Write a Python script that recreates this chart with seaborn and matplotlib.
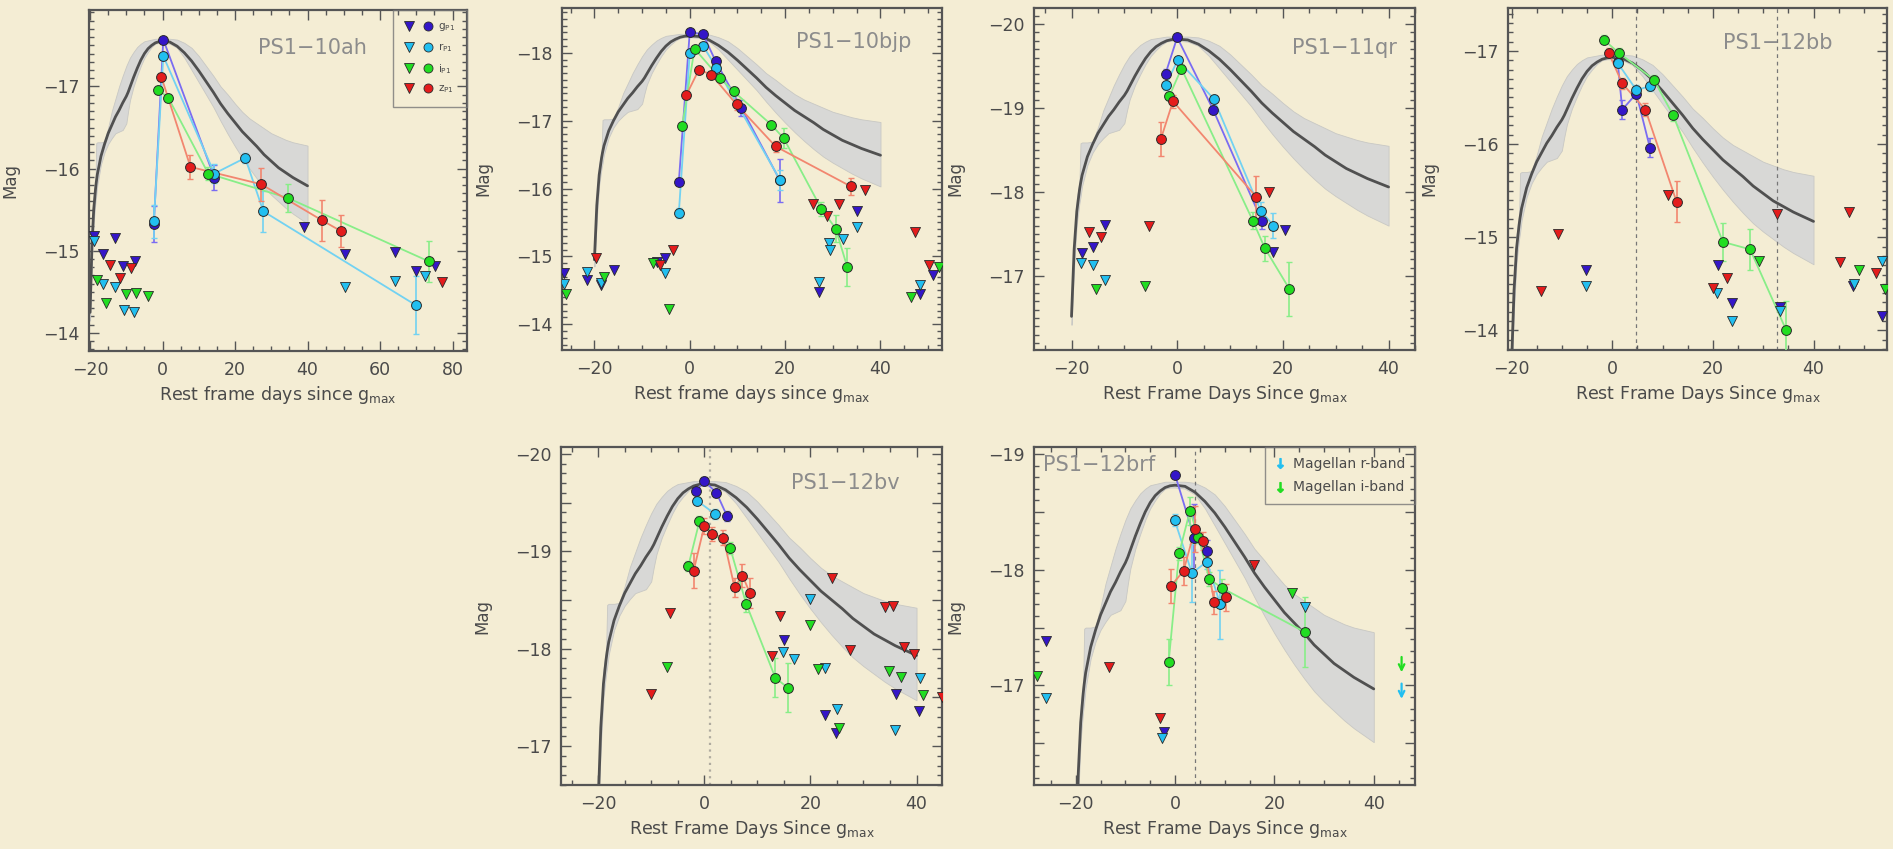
import numpy as np
import pandas as pd
import matplotlib
matplotlib.use("Agg")
import matplotlib.pyplot as plt
import seaborn as sns
from matplotlib.ticker import MultipleLocator, FuncFormatter
from matplotlib.lines import Line2D
from matplotlib.legend_handler import HandlerTuple

# ---------------- template (offset from peak, mag) ----------------
TEMPLATE_DAYS = [-20, -19.5, -19, -18.5, -18.3, -18, -17, -16, -15, -14, -13, -12, -11, -10, -9.5, -9,
                 -8, -7, -6, -5, -4, -3, -2, -1, 0, 2, 4, 6, 8, 10, 12, 14, 16, 18, 20, 22, 24, 26,
                 28, 30, 32, 34, 36, 38, 40]
TEMPLATE_MEAN = [3.3, 2.5, 2.05, 1.8, 1.72, 1.62, 1.4, 1.25, 1.12, 1.02, 0.92, 0.84, 0.75, 0.67, 0.62, 0.56,
                 0.44, 0.33, 0.23, 0.15, 0.09, 0.05, 0.02, 0.005, 0.0, 0.01, 0.06, 0.14, 0.24, 0.36, 0.49,
                 0.62, 0.76, 0.88, 0.99, 1.10, 1.19, 1.28, 1.38, 1.46, 1.54, 1.60, 1.66, 1.71, 1.76]
TEMPLATE_UPPER = [3.2, 2.4, 1.9, 1.7, 1.24, 1.23, 1.23, 1.22, 1.05, 0.85, 0.70, 0.55, 0.42, 0.30, 0.25, 0.20,
                  0.13, 0.07, 0.03, 0.0, -0.01, -0.02, -0.03, -0.03, -0.03, -0.03, -0.02, 0.02, 0.08, 0.18,
                  0.30, 0.42, 0.55, 0.65, 0.76, 0.86, 0.94, 1.0, 1.06, 1.12, 1.16, 1.20, 1.23, 1.25, 1.27]
TEMPLATE_LOWER = [3.4, 2.7, 2.2, 1.95, 1.88, 1.75, 1.5, 1.35, 1.25, 1.18, 1.12, 1.10, 1.08, 1.0, 0.85, 0.72,
                  0.55, 0.42, 0.30, 0.20, 0.13, 0.07, 0.03, 0.02, 0.02, 0.03, 0.08, 0.20, 0.35, 0.50, 0.65,
                  0.80, 0.97, 1.13, 1.28, 1.42, 1.55, 1.67, 1.78, 1.87, 1.95, 2.03, 2.10, 2.16, 2.22]

PANEL_NAMES = ["PS1−10ah", "PS1−10bjp", "PS1−11qr", "PS1−12bb", "PS1−12bv", "PS1−12brf"]
PEAK_MAGS = [-17.55, -18.25, -19.82, -16.93, -19.69, -18.73]
BANDS = ["g", "r", "i", "z"]
LEGEND_LABELS = [r"g$_{\rm P1}$", r"r$_{\rm P1}$", r"i$_{\rm P1}$", r"z$_{\rm P1}$"]
XLABEL_LOWER = r"Rest frame days since g$_{\rm max}$"
XLABEL_UPPER = r"Rest Frame Days Since g$_{\rm max}$"
YLABEL = "Mag"
MAGELLAN_LABELS = ["Magellan r-band", "Magellan i-band"]
MAGELLAN_DAY = 45.6
MAGELLAN_R_MAG = -17.04
MAGELLAN_I_MAG = -17.27

# ---------------- detections: (day, mag, err) ; limits: (day, mag) ----------------
P1_G = [(-2.4, -15.33, 0.22), (0.2, -17.57, 0.03), (14.3, -15.89, 0.15)]
P1_R = [(-2.4, -15.36, 0.2), (0.2, -17.37, 0.04), (14.3, -15.94, 0.12), (22.8, -16.13, 0.06),
        (27.8, -15.48, 0.25), (69.8, -14.34, 0.35)]
P1_I = [(-1.2, -16.96, 0.05), (1.6, -16.86, 0.05), (12.6, -15.94, 0.08), (34.7, -15.64, 0.17), (73.5, -14.87, 0.25)]
P1_Z = [(-0.3, -17.11, 0.05), (7.7, -16.02, 0.15), (27.2, -15.81, 0.2), (44.0, -15.37, 0.25), (49.2, -15.24, 0.2)]
P1_G_LIM = [(-18.9, -15.18), (-16.4, -14.96), (-13.2, -15.15), (-10.9, -14.81), (-7.6, -14.87), (38.9, -15.29),
            (50.4, -14.96), (64.2, -14.99), (69.8, -14.75), (75.3, -14.82)]
P1_R_LIM = [(-18.9, -15.12), (-16.4, -14.59), (-13.2, -14.56), (-10.7, -14.28), (-7.8, -14.26), (50.4, -14.56),
            (64.2, -14.63), (72.5, -14.69)]
P1_I_LIM = [(-18.2, -14.64), (-15.5, -14.37), (-10.1, -14.47), (-7.2, -14.48), (-4.1, -14.45)]
P1_Z_LIM = [(-14.4, -14.83), (-11.8, -14.67), (-8.8, -14.79), (77.1, -14.62)]

P2_G = [(-2.3, -16.10, 0.05), (0.0, -18.31, 0.03), (2.8, -18.27, 0.03), (5.4, -17.88, 0.05), (10.8, -17.19, 0.12),
        (18.9, -16.12, 0.32)]
P2_R = [(-2.3, -15.64, 0.08), (0.0, -18.00, 0.04), (2.8, -18.10, 0.04), (5.6, -17.78, 0.05), (18.9, -16.13, 0.15)]
P2_I = [(-1.6, -16.92, 0.05), (1.0, -18.06, 0.04), (6.3, -17.63, 0.05), (9.2, -17.43, 0.06), (17.1, -16.94, 0.06),
        (19.7, -16.74, 0.15), (27.6, -15.70, 0.1), (30.6, -15.41, 0.2), (33.0, -14.85, 0.28)]
P2_Z = [(-0.7, -17.38, 0.05), (1.9, -17.75, 0.05), (4.5, -17.68, 0.05), (9.8, -17.24, 0.08), (18.0, -16.62, 0.08),
        (33.8, -16.03, 0.12)]
P2_G_LIM = [(-26.4, -14.76), (-21.5, -14.65), (-18.6, -14.58), (-15.9, -14.80), (-6.9, -14.91), (-5.3, -14.97),
            (27.1, -14.48), (35.0, -15.67), (48.3, -14.45), (51.0, -14.72)]
P2_R_LIM = [(-26.4, -14.60), (-21.5, -14.77), (-18.7, -14.61), (-5.3, -14.75), (27.1, -14.62), (29.2, -15.20),
            (29.5, -15.10), (32.2, -15.25), (35.0, -15.44), (48.3, -14.58)]
P2_I_LIM = [(-25.9, -14.45), (-18.0, -14.70), (-7.7, -14.90), (-4.3, -14.23), (46.5, -14.40), (52.2, -14.85)]
P2_Z_LIM = [(-19.7, -14.97), (-6.2, -14.87), (-3.5, -15.09), (25.9, -15.77), (28.7, -15.60), (31.3, -15.77),
            (36.7, -15.98), (47.3, -15.36), (50.1, -14.87)]

P3_G = [(-2.2, -19.41, 0.05), (0.0, -19.84, 0.04), (6.8, -18.98, 0.05), (16.0, -17.66, 0.1)]
P3_R = [(-2.2, -19.27, 0.05), (0.1, -19.57, 0.04), (6.9, -19.11, 0.05), (15.8, -17.78, 0.1), (18.2, -17.60, 0.15)]
P3_I = [(-1.5, -19.14, 0.05), (0.8, -19.47, 0.05), (14.3, -17.66, 0.1), (16.6, -17.33, 0.15), (21.2, -16.85, 0.32)]
P3_Z = [(-3.1, -18.63, 0.2), (-0.8, -19.08, 0.08), (15.0, -17.94, 0.25)]
P3_G_LIM = [(-18.1, -17.27), (-15.9, -17.35), (-13.7, -17.61), (18.2, -17.29), (20.4, -17.55)]
P3_R_LIM = [(-18.3, -17.15), (-15.9, -17.13), (-13.7, -16.95)]
P3_I_LIM = [(-15.3, -16.85), (-6.1, -16.88)]
P3_Z_LIM = [(-16.7, -17.53), (-14.5, -17.46), (-5.4, -17.59), (17.4, -18.00)]

P4_G = [(1.1, -16.88, 0.05), (2.0, -16.37, 0.1), (4.8, -16.54, 0.05), (7.5, -15.96, 0.1)]
P4_R = [(1.1, -16.87, 0.05), (4.8, -16.58, 0.05), (7.5, -16.62, 0.05)]
P4_I = [(-1.7, -17.12, 0.05), (1.3, -16.98, 0.05), (8.3, -16.69, 0.05), (12.1, -16.31, 0.06), (22.0, -14.95, 0.2),
        (27.4, -14.87, 0.22), (34.6, -14.00, 0.32)]
P4_Z = [(-0.7, -16.98, 0.05), (2.0, -16.65, 0.06), (6.6, -16.37, 0.07), (12.8, -15.38, 0.22)]
P4_G_LIM = [(-5.3, -14.65), (21.0, -14.70), (23.8, -14.29), (33.4, -14.25), (47.9, -14.48), (53.6, -14.15)]
P4_R_LIM = [(-5.3, -14.48), (20.9, -14.40), (23.8, -14.10), (33.4, -14.21), (48.0, -14.50), (53.6, -14.75)]
P4_I_LIM = [(29.1, -14.75), (49.0, -14.65), (54.3, -14.44)]
P4_Z_LIM = [(-14.2, -14.42), (-10.8, -15.03), (11.1, -15.45), (20.1, -14.46), (22.8, -14.56), (32.8, -15.25),
            (45.2, -14.73), (47.0, -15.27), (52.5, -14.62)]

P5_G = [(-1.5, -19.62, 0.04), (0.0, -19.72, 0.04), (2.3, -19.60, 0.04), (4.3, -19.36, 0.05)]
P5_R = [(-1.4, -19.52, 0.04), (2.1, -19.38, 0.05)]
P5_I = [(-3.0, -18.85, 0.05), (-0.9, -19.31, 0.05), (4.9, -19.03, 0.06), (7.9, -18.46, 0.08), (13.4, -17.70, 0.2),
        (15.7, -17.60, 0.25)]
P5_Z = [(-2.0, -18.80, 0.18), (0.0, -19.26, 0.08), (1.4, -19.18, 0.07), (3.6, -19.14, 0.08), (5.7, -18.63, 0.1),
        (7.2, -18.75, 0.12), (8.6, -18.57, 0.15)]
P5_G_LIM = [(15.0, -18.09), (22.7, -17.32), (24.9, -17.13), (36.2, -17.53), (40.4, -17.36)]
P5_R_LIM = [(14.8, -17.97), (17.0, -17.89), (19.9, -18.51), (22.8, -17.80), (25.0, -17.38), (36.0, -17.16),
            (40.6, -17.70)]
P5_I_LIM = [(-7.0, -17.81), (19.9, -18.24), (21.4, -17.79), (25.3, -17.19), (34.8, -17.77), (37.0, -17.71),
            (41.2, -17.52)]
P5_Z_LIM = [(-10.1, -17.53), (-6.4, -18.37), (12.8, -17.92), (14.2, -18.34), (24.1, -18.73), (27.5, -17.99),
            (34.0, -18.43), (35.6, -18.44), (37.7, -18.02), (39.6, -17.94), (44.8, -17.50)]

P6_G = [(0.0, -18.82, 0.03), (3.9, -18.27, 0.3), (6.4, -18.16, 0.1)]
P6_R = [(-0.1, -18.43, 0.05), (3.4, -17.97, 0.25), (6.4, -18.07, 0.06), (9.1, -17.70, 0.3)]
P6_I = [(-1.3, -17.20, 0.2), (0.8, -18.14, 0.06), (3.0, -18.51, 0.12), (4.7, -18.28, 0.05), (6.9, -17.92, 0.06),
        (9.5, -17.84, 0.08), (26.2, -17.46, 0.3)]
P6_Z = [(-0.8, -17.86, 0.15), (1.7, -17.99, 0.12), (4.0, -18.35, 0.2), (5.6, -18.25, 0.08), (7.9, -17.72, 0.1),
        (10.3, -17.76, 0.12)]
P6_G_LIM = [(-26.0, -17.38), (-2.3, -16.60)]
P6_R_LIM = [(-26.0, -16.89), (-2.6, -16.55), (26.2, -17.68)]
P6_I_LIM = [(-27.7, -17.08), (23.6, -17.80)]
P6_Z_LIM = [(-13.4, -17.16), (-3.0, -16.72), (15.8, -18.04)]

VLINES = [[], [], [], [4.8, 32.8], [1.1], [4.0]]

# ---------------- style ----------------
W, H = 1893, 849
BG = "#f4edd4"
INK = "#4a4a4a"
FILL = {"g": "#3416c8", "r": "#22bff0", "i": "#22dd22", "z": "#e41c1c"}
LINEC = {"g": "#7a6cf2", "r": "#72d2f2", "i": "#88ee88", "z": "#f2866f"}
EDGE = "#2a2a2a"

# axes boxes in pixels: left, right, top, bottom
BOXES = [(89, 467, 10, 351), (562, 942, 8, 350), (1034, 1415, 8, 350), (1508, 1887, 8, 350),
         (561, 942, 447, 785), (1034, 1415, 447, 785)]
XLIMS = [(-20.3, 84.0), (-26.8, 52.9), (-27.1, 45.0), (-20.7, 54.6), (-27.0, 44.8), (-28.4, 48.3)]
YLIMS = [(-13.78, -17.93), (-13.62, -18.66), (-16.12, -20.19), (-13.79, -17.46), (-16.60, -20.07), (-16.14, -19.06)]
TITLE_POS = [(0.735, 0.889, "right"), (0.92, 0.90, "right"), (0.953, 0.883, "right"),
             (0.855, 0.898, "right"), (0.89, 0.893, "right"), (0.024, 0.947, "left")]

sns.set_style("ticks")
plt.rcParams["font.family"] = ["DejaVu Sans"]
plt.rcParams["mathtext.default"] = "regular"
plt.rcParams["text.color"] = INK
plt.rcParams["axes.labelcolor"] = INK
plt.rcParams["xtick.color"] = "#555555"
plt.rcParams["ytick.color"] = "#555555"
plt.rcParams["xtick.labelcolor"] = INK
plt.rcParams["ytick.labelcolor"] = INK

fig = plt.figure(figsize=(W / 100, H / 100), dpi=100, facecolor=BG)

panel_data = [
    ([P1_G, P1_R, P1_I, P1_Z], [P1_G_LIM, P1_R_LIM, P1_I_LIM, P1_Z_LIM]),
    ([P2_G, P2_R, P2_I, P2_Z], [P2_G_LIM, P2_R_LIM, P2_I_LIM, P2_Z_LIM]),
    ([P3_G, P3_R, P3_I, P3_Z], [P3_G_LIM, P3_R_LIM, P3_I_LIM, P3_Z_LIM]),
    ([P4_G, P4_R, P4_I, P4_Z], [P4_G_LIM, P4_R_LIM, P4_I_LIM, P4_Z_LIM]),
    ([P5_G, P5_R, P5_I, P5_Z], [P5_G_LIM, P5_R_LIM, P5_I_LIM, P5_Z_LIM]),
    ([P6_G, P6_R, P6_I, P6_Z], [P6_G_LIM, P6_R_LIM, P6_I_LIM, P6_Z_LIM]),
]

tdays = np.array(TEMPLATE_DAYS)
for k, (dets, lims) in enumerate(panel_data):
    l, r, t, b = BOXES[k]
    ax = fig.add_axes([l / W, 1 - b / H, (r - l) / W, (b - t) / H])
    ax.set_facecolor("none")
    peak = PEAK_MAGS[k]

    ax.fill_between(tdays, peak + np.array(TEMPLATE_UPPER), peak + np.array(TEMPLATE_LOWER),
                    color="#d8d8d6", lw=0.6, edgecolor="#c8c8c4", zorder=1)
    sns.lineplot(x=tdays, y=peak + np.array(TEMPLATE_MEAN), ax=ax, color="#505050", lw=2.0,
                 sort=False, estimator=None, zorder=2)

    for xv in VLINES[k]:
        if k == 4:
            ax.axvline(xv, color="#b0aca0", lw=1.6, ls=(0, (1, 2)), zorder=1.5)
        else:
            ax.axvline(xv, color="#777777", lw=0.9, ls=(0, (3, 3)), zorder=1.5)

    for band, det, lim in zip(BANDS, dets, lims):
        ld = pd.DataFrame(lim, columns=["day", "mag"])
        sns.scatterplot(data=ld, x="day", y="mag", ax=ax, marker="v", s=52, color=FILL[band],
                        edgecolor=EDGE, linewidth=0.6, zorder=4, legend=False)
    for band, det in zip(BANDS, dets):
        dd = pd.DataFrame(det, columns=["day", "mag", "err"]).sort_values("day")
        ax.errorbar(dd["day"], dd["mag"], yerr=dd["err"], fmt="none", ecolor=LINEC[band],
                    elinewidth=1.2, capsize=2, capthick=1.0, zorder=3)
        sns.lineplot(data=dd, x="day", y="mag", ax=ax, color=LINEC[band], lw=1.3,
                     sort=False, estimator=None, zorder=3)
    for band, det in zip(BANDS, dets):
        dd = pd.DataFrame(det, columns=["day", "mag", "err"])
        sns.scatterplot(data=dd, x="day", y="mag", ax=ax, marker="o", s=50, color=FILL[band],
                        edgecolor=EDGE, linewidth=0.7, zorder=5, legend=False)

    ax.set_xlim(*XLIMS[k])
    ax.set_ylim(*YLIMS[k])
    ax.xaxis.set_major_locator(MultipleLocator(20))
    ax.xaxis.set_minor_locator(MultipleLocator(5))
    if k >= 4:
        ax.yaxis.set_major_locator(MultipleLocator(0.5))
        ax.yaxis.set_major_formatter(FuncFormatter(
            lambda v, p: ("%d" % round(v)).replace("-", "\u2212") if abs(v - round(v)) < 1e-6 else ""))
    else:
        ax.yaxis.set_major_locator(MultipleLocator(1))
    ax.yaxis.set_minor_locator(MultipleLocator(0.1))
    ax.tick_params(which="both", direction="in", top=True, right=True, width=1.0, labelsize=12.5, pad=7)
    ax.tick_params(which="major", length=7)
    ax.tick_params(which="minor", length=3.5)
    for sp in ax.spines.values():
        sp.set_color("#555555")
        sp.set_linewidth(1.6)

    ax.set_xlabel(XLABEL_LOWER if k < 2 else XLABEL_UPPER, fontsize=12.5, labelpad=4)
    ax.set_ylabel(YLABEL, fontsize=12)
    ax.yaxis.set_label_coords(-70 / (r - l), 0.5)

    tx, ty, ha = TITLE_POS[k]
    ax.text(tx, ty, PANEL_NAMES[k], transform=ax.transAxes, ha=ha, va="center",
            fontsize=15, color="#8c8c8c", zorder=6)

    if k == 0:
        handles = [(Line2D([], [], marker="v", ls="none", mfc=FILL[bd], mec=EDGE, mew=0.6, ms=6.5),
                    Line2D([], [], marker="o", ls="none", mfc=FILL[bd], mec=EDGE, mew=0.6, ms=6.5))
                   for bd in BANDS]
        leg = ax.legend(handles, LEGEND_LABELS, handler_map={tuple: HandlerTuple(ndivide=None, pad=0.9)},
                        loc="upper right", borderaxespad=0, fontsize=7.5, frameon=True, fancybox=False,
                        edgecolor="#777777", facecolor="none", handlelength=2.8, labelspacing=0.75,
                        borderpad=1.1, handletextpad=0.5)
        leg.get_frame().set_linewidth(1.0)
        leg.set_zorder(7)
    if k == 5:
        handles = [Line2D([], [], marker=r"$\downarrow$", ls="none", color=FILL["r"], ms=7),
                   Line2D([], [], marker=r"$\downarrow$", ls="none", color=FILL["i"], ms=7)]
        leg = ax.legend(handles, MAGELLAN_LABELS, loc="upper right", borderaxespad=0, fontsize=10,
                        frameon=True, fancybox=False, edgecolor="#777777", facecolor="none",
                        handlelength=0.8, handletextpad=0.5, borderpad=0.7, labelspacing=0.7)
        leg.get_frame().set_linewidth(1.0)
        leg.set_zorder(7)
        ax.annotate("", xy=(MAGELLAN_DAY, MAGELLAN_I_MAG + 0.18), xytext=(MAGELLAN_DAY, MAGELLAN_I_MAG),
                    arrowprops=dict(arrowstyle="->", color=FILL["i"], lw=1.6), zorder=6)
        ax.annotate("", xy=(MAGELLAN_DAY, MAGELLAN_R_MAG + 0.18), xytext=(MAGELLAN_DAY, MAGELLAN_R_MAG),
                    arrowprops=dict(arrowstyle="->", color=FILL["r"], lw=1.6), zorder=6)

fig.savefig("out.png", dpi=100, facecolor=BG)
